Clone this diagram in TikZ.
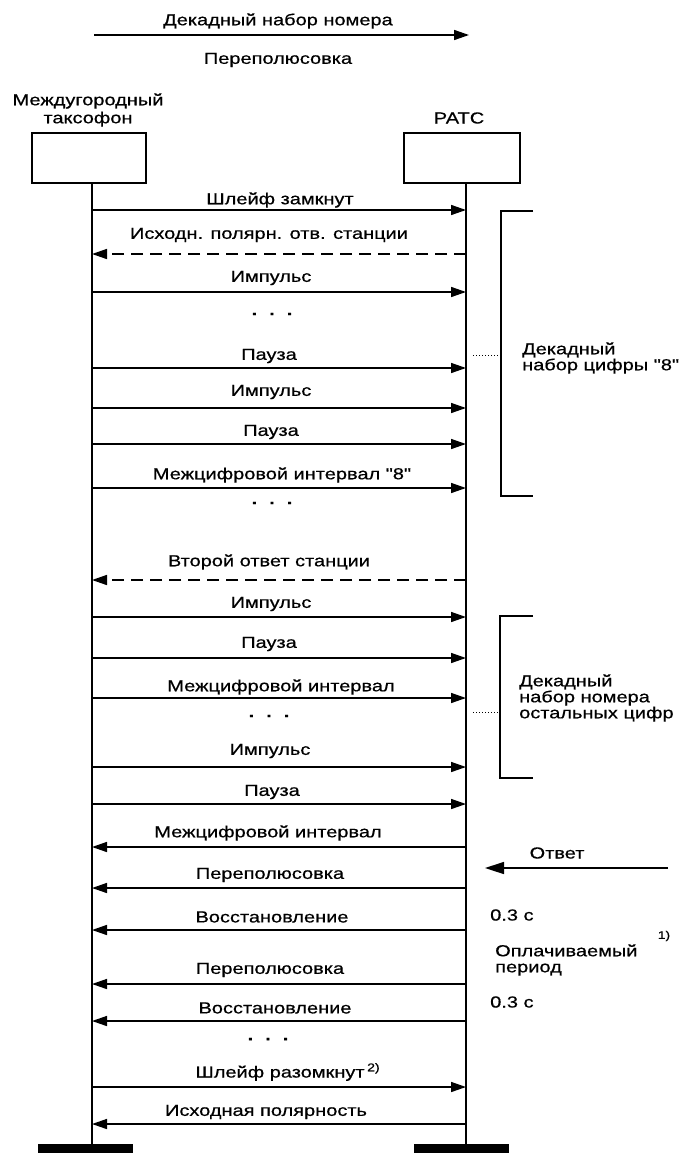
\documentclass[tikz,border=0pt]{standalone}
\usepackage{fontspec}
\setmainfont{Liberation Sans}[FakeStretch=1.25, FakeBold=0.6, Ligatures=TeXOff]
\usetikzlibrary{arrows.meta}

\begin{document}
\begin{tikzpicture}[x=1pt, y=-1pt,
  lbl/.style={font=\fontsize{16}{18}\selectfont, inner sep=0pt},
  msg/.style={-{Triangle[length=15pt, width=10pt]}, line width=1.5pt},
  dsh/.style={msg, dash pattern=on 12pt off 7pt},
  box/.style={draw, line width=1.7pt, minimum width=114pt, minimum height=50pt, inner sep=0pt},
  bar/.style={fill, minimum width=95pt, minimum height=9pt, inner sep=0pt},
  brk/.style={line width=1.6pt},
  dots/.style={lbl, font=\fontsize{16}{18}\selectfont\bfseries}]
\useasboundingbox (0,0) rectangle (682,1153);

% legend
\coordinate (k0) at (94,35); \coordinate (k1) at (469,35);
\draw[msg] (k0) -- (k1);
\node[lbl] (kt) at (278,21) {Декадный набор номера};
\node[lbl] (kp) at (278,60) {Переполюсовка};

% stations
\node[lbl, align=center] (taxt) at (88,110) {Междугородный\\[0pt]таксофон};
\node[lbl] (ratct) at (459,118) {РАТС};
\node[box] (tax) at (89,158) {};
\node[box, minimum width=116pt] (ratc) at (462,158) {};
\node[bar] (taxg) at (85.5,1148.5) {};
\node[bar] (ratcg) at (461.5,1148.5) {};
\coordinate (l0) at (92,183); \coordinate (l1) at (92,1144);
\coordinate (r0) at (466,183); \coordinate (r1) at (466,1144);
\draw[line width=1.2pt] (l0) -- (l1);
\draw[line width=1.2pt] (r0) -- (r1);

% messages
\coordinate (a1) at (92,210); \coordinate (b1) at (466,210);
\draw[msg] (a1) -- (b1); \node[lbl] (m1) at (280,200) {Шлейф замкнут};
\coordinate (a2) at (92,254); \coordinate (b2) at (466,254);
\draw[dsh] (b2) -- (a2); \node[lbl] (m2) at (269,235) {Исходн. полярн. отв. станции};
\coordinate (a3) at (92,292); \coordinate (b3) at (466,292);
\draw[msg] (a3) -- (b3); \node[lbl] (m3) at (271,278) {Импульс};
\node[dots] (d1) at (272,314) {.\hspace{12pt}.\hspace{12pt}.};
\coordinate (a4) at (92,368); \coordinate (b4) at (466,368);
\draw[msg] (a4) -- (b4); \node[lbl] (m4) at (269,356) {Пауза};
\coordinate (a5) at (92,408); \coordinate (b5) at (466,408);
\draw[msg] (a5) -- (b5); \node[lbl] (m5) at (271,392) {Импульс};
\coordinate (a6) at (92,444); \coordinate (b6) at (466,444);
\draw[msg] (a6) -- (b6); \node[lbl] (m6) at (271,432) {Пауза};
\coordinate (a7) at (92,488); \coordinate (b7) at (466,488);
\draw[msg] (a7) -- (b7); \node[lbl] (m7) at (282,475) {Межцифровой интервал "8"};
\node[dots] (d2) at (272,503) {.\hspace{12pt}.\hspace{12pt}.};
\coordinate (a8) at (92,580); \coordinate (b8) at (466,580);
\draw[dsh] (b8) -- (a8); \node[lbl] (m8) at (269,562) {Второй ответ станции};
\coordinate (a9) at (92,617); \coordinate (b9) at (466,617);
\draw[msg] (a9) -- (b9); \node[lbl] (m9) at (271,604) {Импульс};
\coordinate (a10) at (92,658); \coordinate (b10) at (466,658);
\draw[msg] (a10) -- (b10); \node[lbl] (m10) at (269,644) {Пауза};
\coordinate (a11) at (92,698); \coordinate (b11) at (466,698);
\draw[msg] (a11) -- (b11); \node[lbl] (m11) at (281,687) {Межцифровой интервал};
\node[dots] (d3) at (269,716) {.\hspace{12pt}.\hspace{12pt}.};
\coordinate (a12) at (92,767); \coordinate (b12) at (466,767);
\draw[msg] (a12) -- (b12); \node[lbl] (m12) at (270,751) {Импульс};
\coordinate (a13) at (92,804); \coordinate (b13) at (466,804);
\draw[msg] (a13) -- (b13); \node[lbl] (m13) at (272,792) {Пауза};
\coordinate (a14) at (92,847); \coordinate (b14) at (466,847);
\draw[msg] (b14) -- (a14); \node[lbl] (m14) at (268,833) {Межцифровой интервал};
\coordinate (a15) at (92,888); \coordinate (b15) at (466,888);
\draw[msg] (b15) -- (a15); \node[lbl] (m15) at (270,875) {Переполюсовка};
\coordinate (a16) at (92,930); \coordinate (b16) at (466,930);
\draw[msg] (b16) -- (a16); \node[lbl] (m16) at (272,917) {Восстановление};
\coordinate (a17) at (92,984); \coordinate (b17) at (466,984);
\draw[msg] (b17) -- (a17); \node[lbl] (m17) at (270,970) {Переполюсовка};
\coordinate (a18) at (92,1021); \coordinate (b18) at (466,1021);
\draw[msg] (b18) -- (a18); \node[lbl] (m18) at (275,1008) {Восстановление};
\node[dots] (d4) at (268,1039) {.\hspace{12pt}.\hspace{12pt}.};
\coordinate (a19) at (92,1087); \coordinate (b19) at (466,1087);
\draw[msg] (a19) -- (b19); \node[lbl] (m19) at (280,1072) {Шлейф разомкнут\rlap{\,\textsuperscript{2)}}};
\coordinate (a20) at (92,1124); \coordinate (b20) at (466,1124);
\draw[msg] (b20) -- (a20); \node[lbl] (m20) at (266,1112) {Исходная полярность};

% brackets
\coordinate (p0) at (533,211); \coordinate (p1) at (501,211);
\coordinate (p2) at (501,496); \coordinate (p3) at (533,496);
\draw[brk] (p0) -- (p1) -- (p2) -- (p3);
\coordinate (q0) at (473,355); \coordinate (q1) at (498,355);
\draw[dotted, line width=1pt] (q0) -- (q1);
\node[lbl, anchor=west, align=left] (g1) at (522,358) {Декадный\\[-2pt]набор цифры "8"};
\coordinate (p4) at (533,616); \coordinate (p5) at (500,616);
\coordinate (p6) at (500,778); \coordinate (p7) at (533,778);
\draw[brk] (p4) -- (p5) -- (p6) -- (p7);
\coordinate (q2) at (473,712); \coordinate (q3) at (498,712);
\draw[dotted, line width=1pt] (q2) -- (q3);
\node[lbl, anchor=west, align=left] (g2) at (519,698) {Декадный\\[-2pt]набор номера\\[-2pt]остальных цифр};

% answer and charging
\coordinate (o0) at (668,868); \coordinate (o1) at (485,868);
\draw[msg, -{Triangle[length=19pt, width=12pt]}] (o0) -- (o1);
\node[lbl] (ot) at (557,853) {Ответ};
\node[lbl, anchor=west] (s1) at (490,915) {0.3 с};
\node[lbl, anchor=west, align=left] (pay) at (495,960) {Оплачиваемый\\[-2pt]период};
\node[lbl, font=\fontsize{11}{12}\selectfont] (f1) at (664,936) {1)};
\node[lbl, anchor=west] (s2) at (490,1002) {0.3 с};
\end{tikzpicture}
\end{document}
